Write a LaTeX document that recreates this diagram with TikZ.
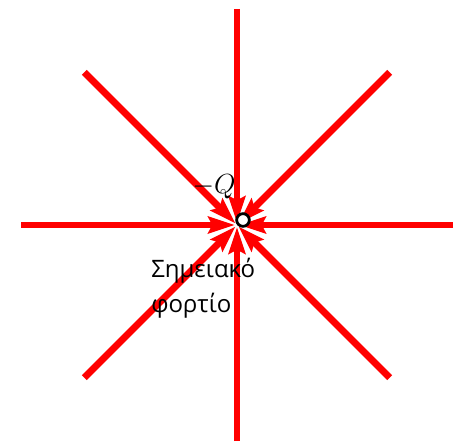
\documentclass[tikz,border=0pt]{standalone}
\usepackage{fontspec}
\newfontfamily\greekfont{Open Sans}
\usetikzlibrary{arrows.meta,calc}

\begin{document}
\begin{tikzpicture}[
  x=0.75pt,y=-0.75pt,
  fieldline/.style={draw=red,line width=5.2pt,
                    -{Stealth[length=20pt,width=12.5pt,inset=3pt]},shorten >=1.5pt},
  charge/.style={draw,circle,fill=white,line width=2.1pt,inner sep=0pt,
                 minimum size=9.5pt},
  caption/.style={font=\greekfont\fontsize{18}{26}\selectfont,align=left,
                  anchor=north west,inner sep=0pt}
]
\useasboundingbox (0,0) rectangle (454,442);

% field lines pointing at the charge
\coordinate (c) at (237,225);
\foreach \a in {0,45,...,315}{
  \coordinate (e\a) at ($(c)+(\a:216)$);
  \draw[fieldline] (e\a) -- (c);
}

% point charge
\node[charge] (q) at (243,220) {};
\node[font=\fontsize{19.5}{22}\selectfont] (qlabel) at (214,187) {$-Q$};
\node[caption] (name) at (151,258) {Σημειακό\\φορτίο};
\end{tikzpicture}
\end{document}
